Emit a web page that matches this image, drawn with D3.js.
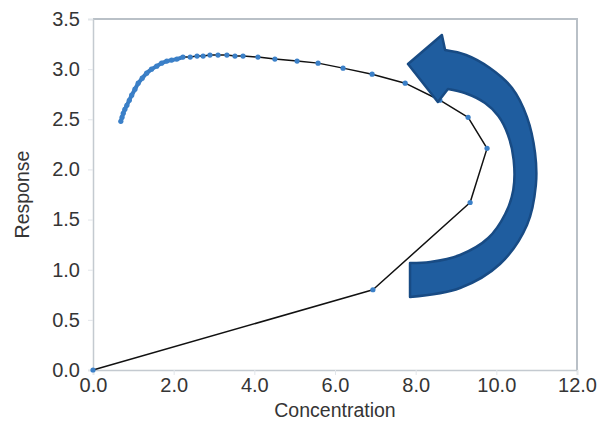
<!DOCTYPE html>
<html>
<head>
<meta charset="utf-8">
<script src="https://cdn.jsdelivr.net/npm/d3@7"></script>
<style>
  html, body { margin: 0; padding: 0; background: #ffffff; }
  svg { display: block; font-family: "Liberation Sans", Arial, Helvetica, sans-serif; }
</style>
</head>
<body>
<svg id="chart" width="600" height="431"></svg>
<script>
// ---- data ----
const concentration = [0.00, 6.94, 9.35, 9.77, 9.30, 8.60, 7.74, 6.92, 6.20, 5.58, 5.06, 4.51, 4.09, 3.72, 3.52, 3.32, 3.10, 2.90, 2.73, 2.58, 2.41, 2.23,
  2.08, 1.95, 1.83, 1.70, 1.58, 1.45, 1.33, 1.22, 1.12, 1.04, 0.96, 0.90, 0.84, 0.79, 0.75, 0.72, 0.69];
const response = [0.00, 0.80, 1.67, 2.21, 2.52, 2.69, 2.86, 2.95, 3.01, 3.06, 3.08, 3.10, 3.12, 3.13, 3.13, 3.14, 3.14, 3.14, 3.13, 3.13, 3.12, 3.12,
  3.10, 3.09, 3.08, 3.06, 3.03, 3.00, 2.96, 2.91, 2.86, 2.80, 2.74, 2.69, 2.64, 2.60, 2.56, 2.52, 2.48];
const blackLineCount = 22; // the black connector runs through the first points of the series

const xTicks = [0, 2, 4, 6, 8, 10, 12];
const yTicks = [0, 0.5, 1.0, 1.5, 2.0, 2.5, 3.0, 3.5];
const xTitle = "Concentration";
const yTitle = "Response";

// curved arrow annotation outline, in data units [concentration, response]
const arrowOuter = [[7.86, 0.728], [9.10, 0.818], [10.09, 1.057], [10.76, 1.446], [10.98, 1.844], [10.96, 2.164],
  [10.76, 2.522], [10.39, 2.812], [9.84, 3.011], [9.25, 3.141], [8.73, 3.190]];
const arrowHead = [[8.73, 3.190], [8.65, 3.340], [7.81, 3.051], [8.55, 2.672], [8.80, 2.802]];
const arrowInner = [[8.80, 2.802], [9.22, 2.762], [9.72, 2.662], [10.05, 2.532], [10.29, 2.343], [10.43, 2.094],
  [10.42, 1.795], [10.22, 1.555], [9.80, 1.316], [9.10, 1.147], [8.36, 1.077], [7.86, 1.067]];

// ---- chart ----
const W = 600, H = 431;
const margin = { left: 93, right: 23, top: 19, bottom: 61 };
const svg = d3.select("#chart");
svg.append("rect").attr("width", W).attr("height", H).attr("fill", "#ffffff");

const x = d3.scaleLinear().domain([0, 12]).range([margin.left, W - margin.right]);
const y = d3.scaleLinear().domain([0, 3.5]).range([H - margin.bottom, margin.top]);

const textColor = "#353535";
const axisColor = "#c4cad0";

// plot-area frame (top and right borders)
svg.append("path")
  .attr("d", `M${x(0)},${y(3.5)}H${x(12)}V${y(0)}`)
  .attr("fill", "none").attr("stroke", "#b9c0c7").attr("stroke-width", 2);

const xAxis = svg.append("g")
  .attr("transform", `translate(0,${y(0)})`)
  .call(d3.axisBottom(x).tickValues(xTicks).tickFormat(d3.format(".1f")).tickSize(5).tickPadding(3));
const yAxis = svg.append("g")
  .attr("transform", `translate(${x(0)},0)`)
  .call(d3.axisLeft(y).tickValues(yTicks).tickFormat(d3.format(".1f")).tickSize(5).tickPadding(8));

[xAxis, yAxis].forEach(g => {
  g.select(".domain").attr("stroke", axisColor).attr("stroke-width", 1.5);
  g.selectAll(".tick line").attr("stroke", "#e2e6ea");
  g.selectAll(".tick text").attr("fill", textColor).attr("font-size", 20)
    .attr("font-family", "'Liberation Sans', Arial, sans-serif");
});

// axis titles
svg.append("text")
  .attr("x", (x(0) + x(12)) / 2).attr("y", 417)
  .attr("text-anchor", "middle").attr("fill", textColor).attr("font-size", 19.5)
  .text(xTitle);
svg.append("text")
  .attr("transform", `translate(29,${(y(0) + y(3.5)) / 2}) rotate(-90)`)
  .attr("text-anchor", "middle").attr("fill", textColor).attr("font-size", 19.5)
  .text(yTitle);

// series
const pts = concentration.map((c, i) => [c, response[i]]);
const line = d3.line().x(d => x(d[0])).y(d => y(d[1]));

// blue connector on the densely sampled rising part
svg.append("path").datum(pts.slice(blackLineCount - 1))
  .attr("d", line).attr("fill", "none").attr("stroke", "#3a7cc2").attr("stroke-width", 4)
  .attr("stroke-linejoin", "round").attr("stroke-linecap", "round");

// black connector
svg.append("path").datum(pts.slice(0, blackLineCount))
  .attr("d", line).attr("fill", "none").attr("stroke", "#111111").attr("stroke-width", 1.5)
  .attr("stroke-linejoin", "round");

svg.append("g").selectAll("circle").data(pts).join("circle")
  .attr("cx", d => x(d[0])).attr("cy", d => y(d[1])).attr("r", 2.6)
  .attr("fill", "#3b80c8");

// curved arrow annotation
const smooth = d3.line().x(d => x(d[0])).y(d => y(d[1])).curve(d3.curveCatmullRom);
const straight = d3.line().x(d => x(d[0])).y(d => y(d[1]));
const arrowD = smooth(arrowOuter) +
  straight(arrowHead).replace(/^M/, "L") +
  smooth(arrowInner).replace(/^M/, "L") + "Z";
svg.append("path")
  .attr("d", arrowD)
  .attr("fill", "#1f5d9f").attr("stroke", "#184b84").attr("stroke-width", 2.5)
  .attr("stroke-linejoin", "round");
</script>
</body>
</html>
